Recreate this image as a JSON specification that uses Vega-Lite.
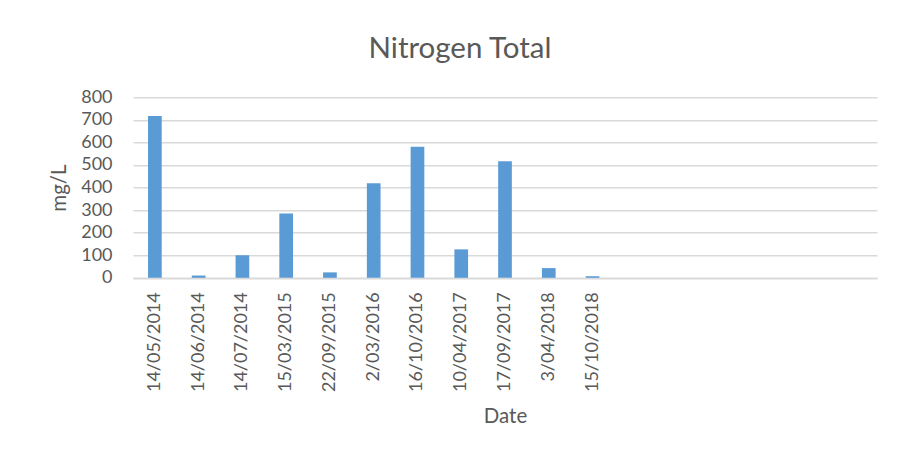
{
  "$schema": "https://vega.github.io/schema/vega-lite/v6.json",
  "autosize": "none",
  "width": 744,
  "height": 180.5,
  "padding": {"left": 133, "top": 97.3, "right": 29, "bottom": 172},
  "background": "white",
  "config": {
    "font": "Lato",
    "view": {"stroke": null},
    "axis": {
      "labelFont": "Lato",
      "titleFont": "Lato",
      "labelColor": "#595959",
      "titleColor": "#595959",
      "titleFontWeight": "normal"
    }
  },
  "title": {
    "text": "Nitrogen Total",
    "anchor": "middle",
    "frame": "group",
    "dx": -45,
    "offset": 24,
    "fontSize": 29.5,
    "fontWeight": "normal",
    "font": "Lato",
    "color": "#595959"
  },
  "data": {
    "values": [
      {"Date": "14/05/2014", "value": 717},
      {"Date": "14/06/2014", "value": 10},
      {"Date": "14/07/2014", "value": 100},
      {"Date": "15/03/2015", "value": 285},
      {"Date": "22/09/2015", "value": 24},
      {"Date": "2/03/2016", "value": 419},
      {"Date": "16/10/2016", "value": 581},
      {"Date": "10/04/2017", "value": 126},
      {"Date": "17/09/2017", "value": 517},
      {"Date": "3/04/2018", "value": 43},
      {"Date": "15/10/2018", "value": 7}
    ]
  },
  "mark": {"type": "bar", "color": "#5B9BD5"},
  "encoding": {
    "x": {
      "field": "Date",
      "type": "nominal",
      "title": "Date",
      "scale": {
        "domain": ["14/05/2014", "14/06/2014", "14/07/2014", "15/03/2015", "22/09/2015", "2/03/2016", "16/10/2016", "10/04/2017", "17/09/2017", "3/04/2018", "15/10/2018", " ", "  ", "   ", "    ", "     ", "      "],
        "paddingInner": 0.687,
        "paddingOuter": 0.3435
      },
      "axis": {
        "labelAngle": -90,
        "labelFontSize": 18,
        "labelPadding": 14,
        "ticks": false,
        "domainColor": "#D9D9D9",
        "domainWidth": 1.5,
        "titleFontSize": 20.5,
        "titlePadding": 15,
        "grid": false
      }
    },
    "y": {
      "field": "value",
      "type": "quantitative",
      "title": "mg/L",
      "scale": {"domain": [0, 800], "nice": false},
      "axis": {
        "values": [0, 100, 200, 300, 400, 500, 600, 700, 800],
        "labelFontSize": 18,
        "labelPadding": 21,
        "ticks": false,
        "domain": false,
        "gridColor": "#D9D9D9",
        "gridWidth": 1.5,
        "titleFontSize": 20.5,
        "titlePadding": 11
      }
    }
  }
}
